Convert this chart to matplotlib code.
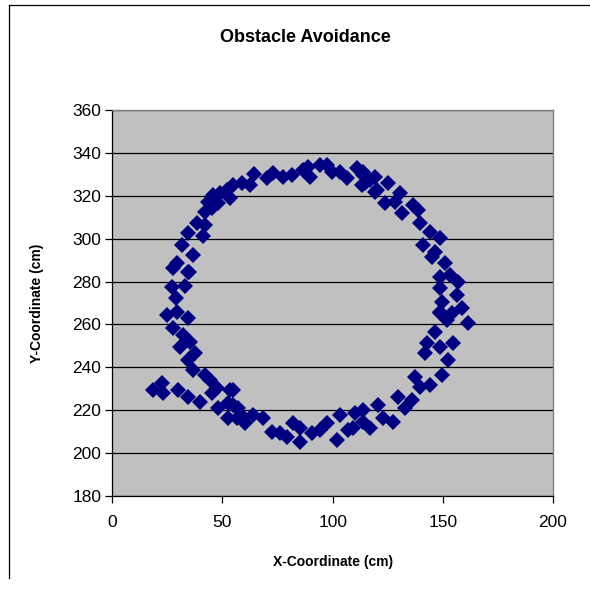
import matplotlib
matplotlib.use("Agg")
import matplotlib.pyplot as plt
from matplotlib.lines import Line2D

plt.rcParams["font.family"] = ["Liberation Sans", "DejaVu Sans"]

# Robot position log (cm)
x_cm = [
    18.6, 22.4, 23.1, 30.0, 34.5, 39.8, 45.1, 53.4, 48.1, 52.6, 52.6, 59.5, 57.2,
    54.9, 54.9, 56.4, 60.2, 64.0, 68.5, 72.3, 76.1, 79.1, 82.1, 85.2, 85.2, 90.5,
    94.3, 97.3, 101.8, 103.3, 107.1, 110.1, 113.9,
    109.4, 113.9, 116.9, 120.7, 123.0, 127.5, 129.8, 132.8, 135.9, 137.4, 139.6,
    144.2, 149.5, 142.7, 141.9, 146.5, 148.7, 154.8, 152.5, 151.8, 148.7, 161.6,
    154.0, 148.7, 158.6, 149.5, 156.3, 148.7, 157.0, 153.2, 148.7, 151.0, 145.0,
    146.5, 141.1, 148.7, 144.2, 139.6, 138.9, 131.3, 136.6, 128.3, 123.8, 130.6,
    120.0, 125.3, 114.7, 119.2, 113.9,
    119.2, 116.9, 113.2, 113.9, 110.9, 106.4, 103.3, 99.6, 97.3, 94.3, 89.7,
    86.7, 89.0, 81.4, 77.6, 73.1, 70.1,
    64.4, 62.5, 58.7, 54.9, 51.9, 48.9, 45.6, 53.4, 43.6, 48.1, 45.1, 42.1,
    38.3, 42.1, 34.5, 41.3, 31.5, 36.8, 29.2, 34.5,
    27.7, 34.9, 27.0, 33.0, 28.9, 24.7, 29.2, 34.5, 27.7, 32.2, 30.7, 35.3,
    37.5, 34.5, 36.8, 42.1, 44.3, 47.4,
]
y_cm = [
    229.4, 232.6, 227.9, 229.4, 226.3, 224.0, 227.9, 229.4, 220.9, 223.2, 216.2, 217.0, 220.9,
    229.4, 222.4, 216.2, 213.9, 217.8, 216.2, 210.0, 209.2, 207.7, 213.9, 211.6, 205.3, 209.2,
    210.8, 213.9, 206.1, 217.8, 210.8, 218.6, 220.1,
    211.6, 214.7, 211.6, 222.4, 216.2, 214.7, 226.3, 220.9, 224.8, 235.6, 231.0,
    231.8, 236.4, 251.2, 246.6, 256.6, 249.6, 251.2, 243.4, 262.1, 265.2, 260.5,
    265.2, 266.0, 267.5, 270.6, 273.8, 276.9, 280.0, 283.1, 282.3, 288.5, 291.6,
    293.9, 297.1, 300.2, 303.3, 307.2, 313.4, 311.9, 315.7, 317.3, 316.5, 321.2,
    322.7, 325.8, 325.8, 328.9, 331.3,
    321.9, 327.4, 325.1, 329.7, 332.8, 328.2, 331.3, 331.3, 334.4, 334.4, 328.9,
    332.1, 333.6, 329.7, 328.9, 330.5, 328.2,
    330.0, 325.1, 325.8, 325.1, 322.7, 321.2, 320.4, 318.8, 317.3, 316.5, 314.2, 312.6,
    307.2, 306.4, 302.5, 301.4, 297.1, 292.4, 288.5, 284.6,
    286.2, 284.6, 277.6, 278.1, 272.2, 264.4, 266.0, 262.9, 258.2, 255.1, 249.6, 252.0,
    246.6, 243.4, 238.8, 236.4, 234.1, 230.2,
]

x_ticks = [0, 50, 100, 150, 200]
y_ticks = [180, 200, 220, 240, 260, 280, 300, 320, 340, 360]

fig = plt.figure(figsize=(5.9, 5.9), dpi=100)
fig.patch.set_facecolor("white")

# chart-area frame
fig.add_artist(Line2D([9 / 590, 9 / 590], [1 - 5 / 590, 1 - 578 / 590],
                      color="black", lw=0.9, transform=fig.transFigure))
fig.add_artist(Line2D([9 / 590, 1.0], [1 - 5 / 590, 1 - 5 / 590],
                      color="black", lw=0.9, transform=fig.transFigure))

ax = fig.add_axes([112.3 / 590, 1 - 496 / 590, (553 - 112.3) / 590, (496 - 110) / 590])
ax.set_facecolor("#C0C0C0")

ax.set_xlim(0, 200)
ax.set_ylim(180, 360)
ax.set_xticks(x_ticks)
ax.set_yticks(y_ticks)
ax.set_xticklabels([str(v) for v in x_ticks], fontsize=12.5)
ax.set_yticklabels([str(v) for v in y_ticks], fontsize=12.5)

ax.yaxis.grid(True, color="black", lw=0.9)
ax.set_axisbelow(True)

for side in ("top", "right"):
    ax.spines[side].set_color("#808080")
    ax.spines[side].set_linewidth(1.0)
for side in ("left", "bottom"):
    ax.spines[side].set_color("black")
    ax.spines[side].set_linewidth(0.9)

ax.tick_params(axis="both", direction="out", length=5, width=0.9, colors="black",
               labelcolor="black")
ax.tick_params(axis="x", pad=9)
ax.tick_params(axis="y", pad=3)

ax.plot(x_cm, y_cm, linestyle="none", marker="D", markersize=8.2,
        color="#000080", markeredgewidth=0, zorder=3)

fig.text(305 / 590, 1 - 37 / 590, "Obstacle Avoidance", ha="center", va="center",
         fontsize=13, fontweight="bold")
fig.text(333 / 590, 1 - 562 / 590, "X-Coordinate (cm)", ha="center", va="center",
         fontsize=10, fontweight="bold")
fig.text(37 / 590, 1 - 303 / 590, "Y-Coordinate (cm)", ha="center", va="center",
         rotation=90, fontsize=10, fontweight="bold")

fig.savefig("out.png", dpi=100)
